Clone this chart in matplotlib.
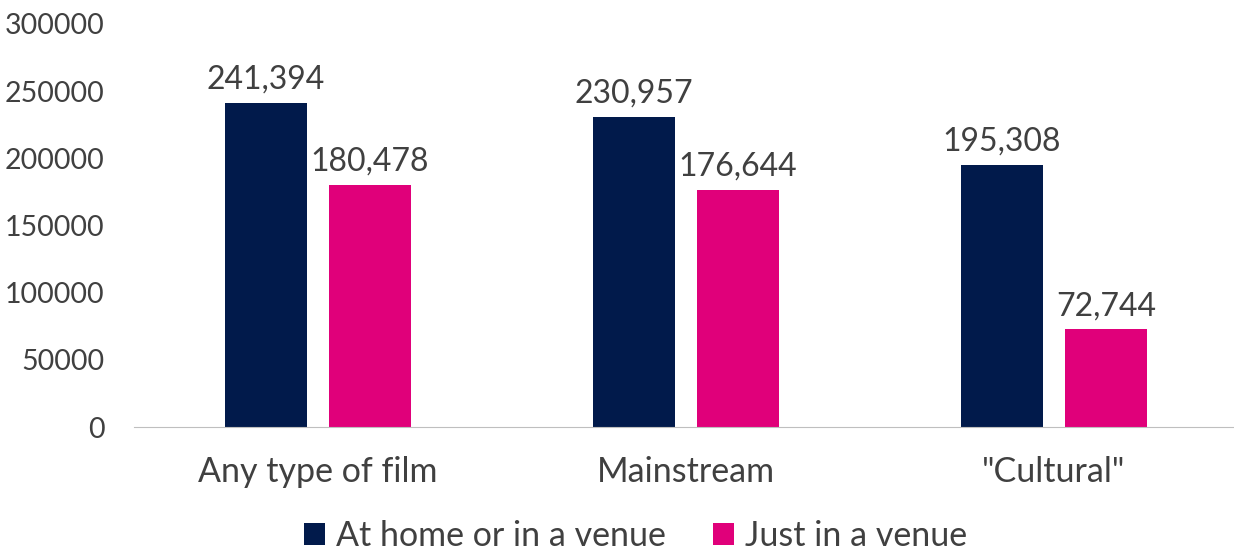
import matplotlib.pyplot as plt
import numpy as np

plt.rcParams['font.family'] = ['Lato', 'DejaVu Sans']

categories = ['Any type of film', 'Mainstream', '"Cultural"']
home_or_venue = [241394, 230957, 195308]
just_venue = [180478, 176644, 72744]
series_names = ['At home or in a venue', 'Just in a venue']
navy = '#011A4B'
pink = '#E0007A'

fig = plt.figure(figsize=(12.34, 5.55), dpi=100)
ax = fig.add_axes([134 / 1234, 1 - 427 / 555, 1104 / 1234, 403 / 555])

x = np.arange(len(categories))
w = 0.223
off = 0.141
b1 = ax.bar(x - off, home_or_venue, w, color=navy, label=series_names[0])
b2 = ax.bar(x + off, just_venue, w, color=pink, label=series_names[1])

for bars in (b1, b2):
    for rect in bars:
        h = rect.get_height()
        ax.text(rect.get_x() + rect.get_width() / 2, h + 6000, f'{h:,.0f}',
                ha='center', va='bottom', fontsize=23, color='#404040')

ax.set_xlim(-0.5, 2.5)
ax.set_ylim(0, 300000)
ax.set_yticks(range(0, 300001, 50000))
ax.set_xticks(x)
ax.set_xticklabels(categories, fontsize=24.5, color='#404040')
ax.tick_params(axis='y', labelsize=20.5, labelcolor='#404040', length=0, pad=21)
ax.tick_params(axis='x', length=0, pad=21)
for s in ['top', 'right', 'left']:
    ax.spines[s].set_visible(False)
ax.spines['bottom'].set_color('#BFBFBF')

fig.legend(loc='lower center', ncol=2, frameon=False, fontsize=24.5,
           bbox_to_anchor=(0.515, -0.05), handlelength=0.62, handleheight=0.62,
           handletextpad=0.3, columnspacing=1.4, labelcolor='#404040')

fig.savefig('out.png', dpi=100)
